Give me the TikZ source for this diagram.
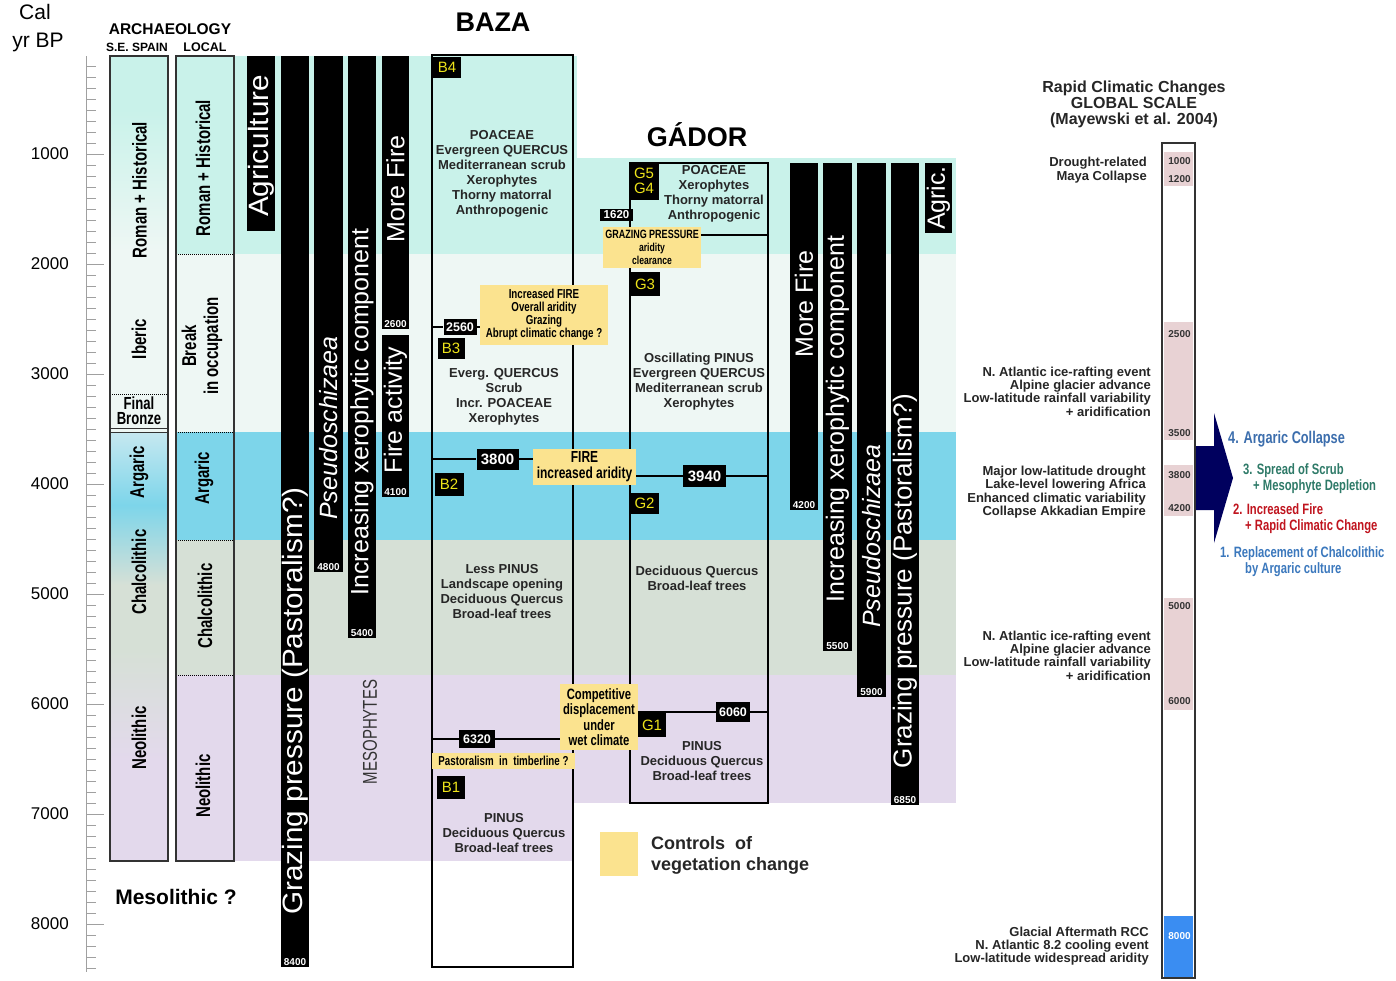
\documentclass[tikz,border=0pt]{standalone}
\usepackage{fontspec}
\setmainfont{Liberation Sans}
\newfontfamily\narrow[FakeStretch=0.75]{Liberation Sans}
\newfontfamily\widefont[FakeStretch=1.06]{Liberation Sans}
\newcommand\fsz[2]{\fontsize{#1}{#2}\selectfont}
\definecolor{bgteal}{HTML}{C9F2EA}
\definecolor{bglight}{HTML}{EEF7F4}
\definecolor{bgblue}{HTML}{7DD5EA}
\definecolor{bgpale}{HTML}{C6E8F0}
\definecolor{bggrn}{HTML}{D6E0D6}
\definecolor{bglav}{HTML}{E3D9EC}
\definecolor{ylw}{HTML}{FBE38F}
\definecolor{gyel}{HTML}{EDE31A}
\definecolor{vegtxt}{HTML}{262626}
\definecolor{darktxt}{HTML}{333333}
\definecolor{rpink}{HTML}{E8D2D4}
\definecolor{rblue}{HTML}{3A8DF2}
\definecolor{navy}{HTML}{00005E}
\definecolor{cfour}{HTML}{3C6EAD}
\definecolor{cthree}{HTML}{2E7A68}
\definecolor{ctwo}{HTML}{C0141E}
\definecolor{cone}{HTML}{3B78BD}
\definecolor{axgray}{HTML}{A0A0A0}
\begin{document}
\begin{tikzpicture}[x=1pt,y=-1pt,
  bartxt/.style={text=white, rotate=90, inner sep=0pt, font=\fsz{25}{25}},
  barlab/.style={text=white, anchor=south, inner sep=1.5pt, font=\bfseries\fsz{10}{10}},
  dbox/.style={fill=black, text=white, inner sep=0pt, font=\bfseries\fsz{12.5}{12.5}},
  gbox/.style={fill=black, text=gyel, inner sep=0pt, align=center, font=\fsz{15}{15}},
  ybox/.style={fill=ylw, inner sep=0pt, align=center, text=black},
  veg/.style={text=vegtxt, align=center, inner sep=0pt, font=\bfseries\fsz{13}{15}},
  arch/.style={rotate=90, inner sep=0pt, text=black, font=\narrow\bfseries\fsz{20}{22}, align=center},
  axlab/.style={anchor=east, inner sep=0pt, font=\fsz{17}{17}},
  rcc/.style={anchor=east, align=right, inner sep=0pt, text=vegtxt, font=\bfseries\fsz{13}{13.3}},
  rcclab/.style={inner sep=0pt, text=darktxt, font=\bfseries\fsz{10}{10}},
  frame/.style={draw=black, line width=1.5pt},
  conn/.style={draw=black, line width=1.3pt},
  concl/.style={anchor=west, inner sep=0pt, align=left, font=\narrow\bfseries\fsz{15}{16}},
]
\useasboundingbox (0,0) rectangle (1396,980);
\fill[white] (0,0) rectangle (1396,980);

% ---------- background bands ----------
\fill[bgteal] (234,56) rectangle (577,254);
\fill[bgteal] (577,158) rectangle (956,254);
\fill[bglight] (234,254) rectangle (956,432);
\fill[bgblue] (234,432) rectangle (956,540);
\fill[bggrn] (234,540) rectangle (956,675);
\fill[bglav] (234,675) rectangle (573,861);
\fill[bglav] (573,675) rectangle (956,803);

% ---------- time axis ----------
\draw[axgray, line width=1pt] (86,56) -- (86,972);
\foreach \k in {2,...,84} {\draw[axgray, line width=0.8pt] (86,{44+11*\k}) -- (96,{44+11*\k});}
\foreach \t in {1,...,8} {
  \draw[axgray, line width=1pt] (86,{44+110*\t}) -- (104,{44+110*\t});
  \node[axlab] (ax\t) at (69,{44+110*\t}) {\t000};
}
\node[font=\fsz{21}{21}, inner sep=0pt] (cal) at (35,12) {Cal};
\node[font=\fsz{21}{21}, inner sep=0pt] (yrbp) at (38,42) {yr BP};

% ---------- archaeology columns ----------
\node[font=\bfseries\fsz{15.5}{15.5}, inner sep=0pt] (archt) at (170,29) {ARCHAEOLOGY};
\node[font=\bfseries\fsz{12}{12}, inner sep=0pt] (sesp) at (137,47) {S.E. SPAIN};
\node[font=\bfseries\fsz{12.5}{12.5}, inner sep=0pt] (local) at (205,47) {LOCAL};

\fill[bgteal] (110,56) rectangle (168,110);
\shade[top color=bgteal, bottom color=bglight] (110,110) rectangle (168,250);
\fill[bglight] (110,250) rectangle (168,432);
\shade[top color=bgpale, bottom color=bgblue] (110,432) rectangle (168,505);
\shade[top color=bgblue, bottom color=bggrn] (110,505) rectangle (168,585);
\fill[bggrn] (110,585) rectangle (168,650);
\shade[top color=bggrn, bottom color=bglav] (110,650) rectangle (168,760);
\fill[bglav] (110,760) rectangle (168,861);
\draw[densely dotted, line width=1pt] (110,394) -- (168,394);
\draw[line width=1pt, darktxt] (110,428) -- (168,428);
\draw[line width=1pt, darktxt] (110,432) -- (168,432);
\draw[line width=1.3pt, darktxt] (110,56) rectangle (168,861);

\fill[bgteal] (176,56) rectangle (234,254);
\fill[bglight] (176,254) rectangle (234,432);
\fill[bgblue] (176,432) rectangle (234,540);
\fill[bggrn] (176,540) rectangle (234,675);
\fill[bglav] (176,675) rectangle (234,861);
\foreach \yy in {254,432,540,675} {\draw[densely dotted, line width=1pt] (176,\yy) -- (234,\yy);}
\draw[line width=1.3pt, darktxt] (176,56) rectangle (234,861);

\node[arch] (seRoman) at (139.5,190) {Roman + Historical};
\node[arch] (seIberic) at (139,339) {Iberic};
\node[inner sep=0pt, align=center, font=\narrow\bfseries\fsz{17.5}{15}] (seBronze) at (139,411) {Final\\Bronze};
\node[arch] (seArgaric) at (139,472) {Argaric};
\node[arch] (seChalco) at (139,572) {Chalcolithic};
\node[arch] (seNeo) at (139,738) {Neolithic};
\node[arch] (loRoman) at (203,168) {Roman + Historical};
\node[arch] (loBreak) at (202,346) {Break\\in occupation};
\node[arch] (loArgaric) at (204,478) {Argaric};
\node[arch] (loChalco) at (205,606) {Chalcolithic};
\node[arch] (loNeo) at (203,786) {Neolithic};
\node[font=\bfseries\fsz{21}{21}, inner sep=0pt] (meso) at (176,897) {Mesolithic ?};

% ---------- titles ----------
\node[font=\bfseries\fsz{27}{27}, inner sep=0pt] (baza) at (493,22) {BAZA};
\node[font=\bfseries\fsz{27}{27}, inner sep=0pt] (gador) at (697,135) {GÁDOR};

% ---------- Baza bars ----------
\fill (247,56) rectangle (275,231);
\node[bartxt, font=\widefont\fsz{28}{28}] (bAgri) at (261,146) {Agriculture};
\fill (281,56) rectangle (309,967);
\node[bartxt, font=\widefont\fsz{28}{28}] (bGraz) at (295,701) {Grazing pressure (Pastoralism?)};
\node[barlab] (l8400) at (295,967) {8400};
\fill (314,56) rectangle (343,572);
\node[bartxt, font=\itshape\fsz{25}{25}] (bPseudo) at (328.5,428) {Pseudoschizaea};
\node[barlab] (l4800) at (328.5,572) {4800};
\fill (348,56) rectangle (376,638);
\node[bartxt] (bIncr) at (362,412) {Increasing xerophytic component};
\node[barlab] (l5400) at (362,638) {5400};
\fill (382,56) rectangle (409,329);
\node[bartxt] (bMoreFire) at (395.5,189) {More Fire};
\node[barlab] (l2600) at (395.5,329) {2600};
\fill (382,335) rectangle (409,497);
\node[bartxt] (bFireAct) at (395.5,410) {Fire activity};
\node[barlab] (l4100) at (395.5,497) {4100};
\node[rotate=90, inner sep=0pt, text=darktxt, font=\narrow\fsz{20}{20}] (mesoph) at (370,732) {MESOPHYTES};

% ---------- Gador bars ----------
\fill (790,163) rectangle (818,510);
\node[bartxt] (gMoreFire) at (804,304) {More Fire};
\node[barlab] (l4200) at (804,510) {4200};
\fill (823,163) rectangle (852,651);
\node[bartxt] (gIncr) at (837.5,419) {Increasing xerophytic component};
\node[barlab] (l5500) at (837.5,651) {5500};
\fill (857,163) rectangle (886,697);
\node[bartxt, font=\itshape\fsz{25}{25}] (gPseudo) at (871.5,536) {Pseudoschizaea};
\node[barlab] (l5900) at (871.5,697) {5900};
\fill (891,163) rectangle (919,805);
\node[bartxt, font=\fsz{26}{26}] (gGraz) at (905,581) {Grazing pressure (Pastoralism?)};
\node[barlab] (l6850) at (905,805) {6850};
\fill (925,163) rectangle (952,233);
\node[bartxt] (gAgric) at (938.5,198) {Agric.};

% ---------- frames ----------
\draw[frame] (432,55) rectangle (573,967);
\draw[frame] (630,163) rectangle (768,803);
\coordinate (bzL2560) at (432,327);
\coordinate (bzL3800) at (432,459);
\coordinate (bzL6320) at (432,739);
\coordinate (gdR235) at (768,235);
\coordinate (gdR476) at (768,476);
\coordinate (gdR712) at (768,712);

% ---------- Baza content ----------
\node[gbox, minimum width=28, minimum height=21] (B4) at (447,67.5) {B4};
\node[veg] (bzV4) at (502,174) {POACEAE\\Evergreen QUERCUS\\Mediterranean scrub\\Xerophytes\\Thorny matorral\\Anthropogenic};
\node[ybox, minimum width=128, minimum height=60, font=\narrow\bfseries\fsz{13}{13}] (yFire1) at (544,315) {Increased FIRE\\Overall aridity\\Grazing\\Abrupt climatic change ?};
\node[dbox, minimum width=33, minimum height=16] (d2560) at (460,327) {2560};
\node[gbox, minimum width=27, minimum height=21] (B3) at (451,348) {B3};
\node[veg] (bzV3) at (504,397) {Everg. QUERCUS\\Scrub\\Incr. POACEAE\\Xerophytes};
\node[dbox, minimum width=42, minimum height=21, font=\bfseries\fsz{15}{15}] (d3800) at (497.5,459) {3800};
\node[ybox, minimum width=103, minimum height=36, font=\narrow\bfseries\fsz{16}{16}] (yFire2) at (584.5,467) {FIRE\\increased aridity};
\node[gbox, minimum width=29, minimum height=23] (B2) at (449,484) {B2};
\node[veg] (bzV2) at (502,592) {Less PINUS\\Landscape opening\\Deciduous Quercus\\Broad-leaf trees};
\node[dbox, minimum width=36, minimum height=18] (d6320) at (477,739) {6320};
\node[ybox, minimum width=78, minimum height=66, font=\narrow\bfseries\fsz{15}{15.5}] (yComp) at (599,717) {Competitive\\displacement\\under\\wet climate};
\node[ybox, minimum width=143, minimum height=16, font=\narrow\bfseries\fsz{13}{13}] (yPast) at (503.5,761) {Pastoralism\ \ in\ \ timberline ?};
\node[gbox, minimum width=28, minimum height=23] (B1) at (451,787) {B1};
\node[veg] (bzV1) at (504,833) {PINUS\\Deciduous Quercus\\Broad-leaf trees};

% ---------- Gador content ----------
\node[gbox, minimum width=29, minimum height=38] (G54) at (644,181) {G5\\G4};
\node[veg] (gdV5) at (714,194) {POACEAE\\Xerophytes\\Thorny matorral\\Anthropogenic};
\node[dbox, minimum width=33, minimum height=12, font=\bfseries\fsz{11.5}{11.5}] (d1620) at (616.5,215) {1620};
\node[ybox, minimum width=98, minimum height=41, font=\narrow\bfseries\fsz{11.5}{13}] (yGraz) at (652,247.5) {{\fsz{12}{13}GRAZING PRESSURE}\\aridity\\clearance};
\node[gbox, minimum width=29, minimum height=24] (G3) at (645,284) {G3};
\node[veg] (gdV3) at (699,382) {Oscillating PINUS\\Evergreen QUERCUS\\Mediterranean scrub\\Xerophytes};
\node[dbox, minimum width=43, minimum height=22, font=\bfseries\fsz{15}{15}] (d3940) at (704.5,476) {3940};
\node[gbox, minimum width=29, minimum height=21] (G2) at (644.5,503.5) {G2};
\node[veg] (gdV2) at (697,578) {Deciduous Quercus\\Broad-leaf trees};
\node[gbox, minimum width=28, minimum height=24] (G1) at (652,725) {G1};
\node[dbox, minimum width=34, minimum height=20] (d6060) at (733,712) {6060};
\node[veg] (gdV1) at (702,761) {PINUS\\Deciduous Quercus\\Broad-leaf trees};

% ---------- connectors ----------
\draw[conn] (bzL2560) -- (d2560.west);
\draw[conn] (d2560.east) -- (d2560.east -| yFire1.west);
\draw[conn] (bzL3800) -- (d3800.west);
\draw[conn] (d3800.east) -- (d3800.east -| yFire2.west);
\draw[conn] (d3940.west -| yFire2.east) -- (d3940.west);
\draw[conn] (d3940.east) -- (d3940.east -| gdR476);
\draw[conn] (bzL6320) -- (d6320.west);
\draw[conn] (d6320.east) -- (d6320.east -| yComp.west);
\draw[conn] (d6060.west -| G1.west) -- (d6060.west);
\draw[conn] (d6060.east) -- (d6060.east -| gdR712);
\draw[conn] (gdR235 -| yGraz.east) -- (gdR235);

% ---------- RCC column ----------
\node[font=\bfseries\fsz{16}{16}, align=center, inner sep=0pt, text=vegtxt] (rccT) at (1134,104) {Rapid Climatic Changes\\GLOBAL SCALE\\(Mayewski et al. 2004)};
\fill[rpink] (1164,152) rectangle (1193,186);
\fill[rpink] (1164,322) rectangle (1193,440);
\fill[rpink] (1164,465) rectangle (1193,516);
\fill[rpink] (1164,598) rectangle (1193,710);
\fill[rblue] (1164,916) rectangle (1193,978);
\draw[line width=1.5pt, draw=darktxt] (1162,143) rectangle (1195,978);
\node[rcclab] (r1000) at (1179.5,161) {1000};
\node[rcclab] (r1200) at (1179.5,179) {1200};
\node[rcclab] (r2500) at (1179.5,334) {2500};
\node[rcclab] (r3500) at (1179.5,433) {3500};
\node[rcclab] (r3800) at (1179.5,475) {3800};
\node[rcclab] (r4200) at (1179.5,508) {4200};
\node[rcclab] (r5000) at (1179.5,606) {5000};
\node[rcclab] (r6000) at (1179.5,701) {6000};
\node[rcclab, text=white] (r8000) at (1179.5,936) {8000};

\node[rcc] (e1) at (1147,170) {Drought-related\\Maya Collapse};
\node[rcc] (e2) at (1151,391.5) {N. Atlantic ice-rafting event\\Alpine glacier advance\\Low-latitude rainfall variability\\+ aridification};
\node[rcc] (e3) at (1146,492) {Major low-latitude drought\\Lake-level lowering Africa\\Enhanced climatic variability\\Collapse Akkadian Empire};
\node[rcc] (e4) at (1151,655.5) {N. Atlantic ice-rafting event\\Alpine glacier advance\\Low-latitude rainfall variability\\+ aridification};
\node[rcc] (e5) at (1149,946) {Glacial Aftermath RCC\\N. Atlantic 8.2 cooling event\\Low-latitude widespread aridity};

% ---------- arrow and conclusions ----------
\fill[navy] (1196,446) -- (1214,446) -- (1214,413) -- (1233,478) -- (1214,543) -- (1214,510) -- (1196,510) -- cycle;
\node[concl, text=cfour, font=\narrow\bfseries\fsz{17}{17}] (c4) at (1228,439) {4. Argaric Collapse};
\node[concl, text=cthree] (c3) at (1243,478.5) {3. Spread of Scrub\\\hspace*{10pt}+ Mesophyte Depletion};
\node[concl, text=ctwo] (c2) at (1233,519) {2. Increased Fire\\\hspace*{12pt}+ Rapid Climatic Change};
\node[concl, text=cone] (c1) at (1220,562) {1. Replacement of Chalcolithic\\\hspace*{25pt}by Argaric culture};

% ---------- legend ----------
\fill[ylw] (600,832) rectangle (638,876);
\node[anchor=west, align=left, inner sep=0pt, font=\bfseries\fsz{18}{21}, text=vegtxt] (legend) at (651,855) {Controls\ \ of\\vegetation change};
\end{tikzpicture}
\end{document}
